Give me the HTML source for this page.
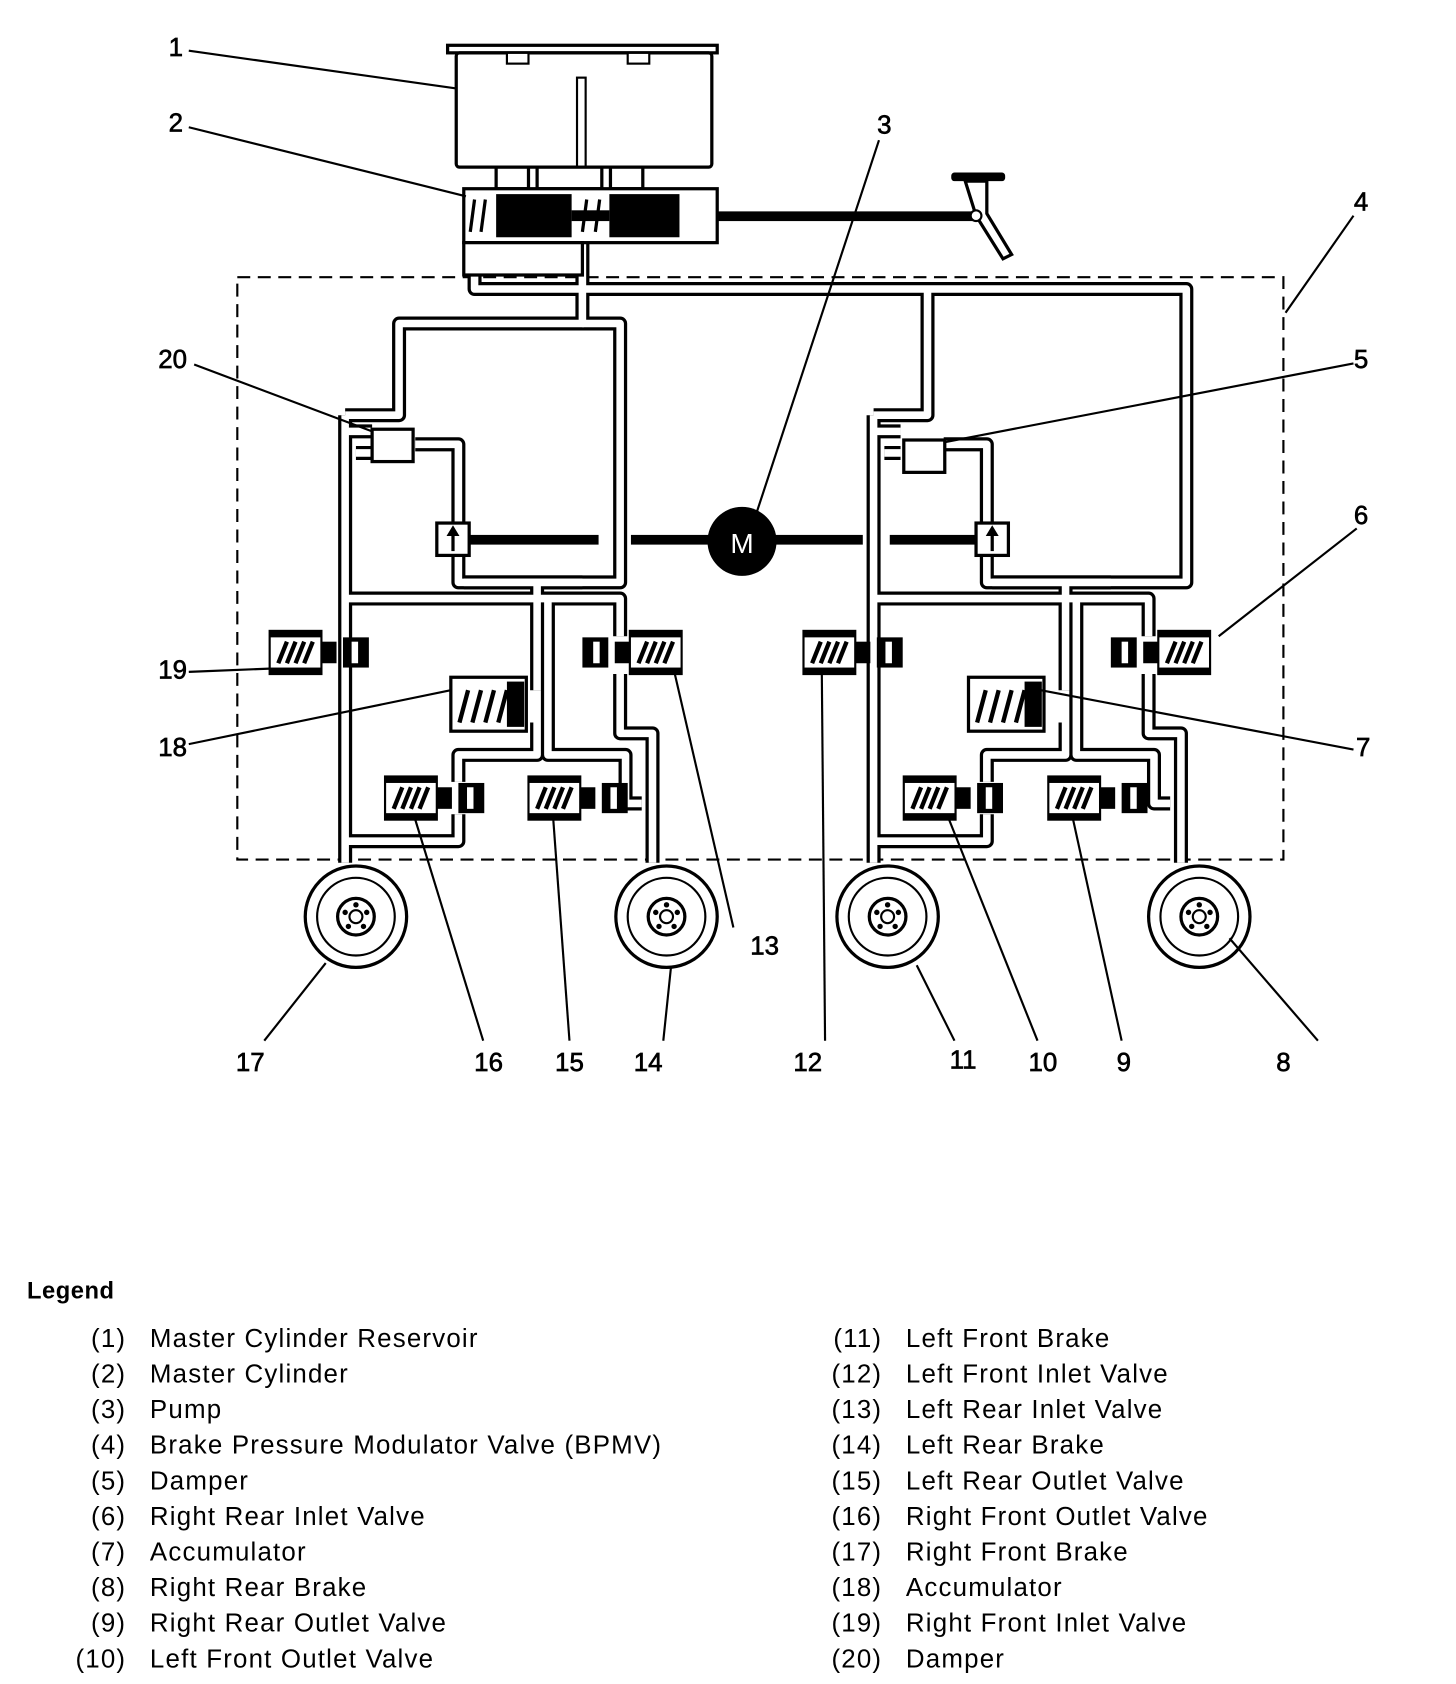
<!DOCTYPE html>
<html><head><meta charset="utf-8"><style>
html,body{margin:0;padding:0;background:#fff;}
svg{display:block;}
text{font-family:"Liberation Sans",Arial,sans-serif;fill:#000;}
</style></head><body>
<svg width="1456" height="1684" viewBox="0 0 1350 1561.5" xmlns="http://www.w3.org/2000/svg">
<defs>
<g id="tubesL">
  <path d="M320,385 V800"/>
  <path d="M320,555 H575 V590"/>
  <path d="M575,625 V680 H605 V800"/>
  <path d="M498,540 V640"/>
  <path d="M498,670 V700 H425 V725"/>
  <path d="M508,555 V700 H580 V745 H595"/>
  <path d="M320,780 H425 V755"/>
  <path d="M385,412 H425 V485"/>
  <path d="M425,515 V540 H540"/>
  <path d="M320,400 H345"/>
  <path d="M330,420 H345"/>
</g>
<g id="tubesTop">
  <path d="M540,225 V300 H370 V385 H320"/>
  <path d="M540,300 H575 V540 H430"/>
  <path d="M440,225 V268 H1100 V540 H920"/>
  <path d="M860,268 V385 H810"/>
</g>
<g id="vSpringL">
  <rect x="0" y="0" width="48" height="40" fill="#fff" stroke="#000" stroke-width="2"/>
  <rect x="0" y="0" width="48" height="6" fill="#000"/>
  <rect x="0" y="34" width="48" height="6" fill="#000"/>
  <g stroke="#000" stroke-width="4" fill="none">
   <line x1="8" y1="30" x2="16" y2="10"/><line x1="16" y1="30" x2="24" y2="10"/><line x1="24" y1="30" x2="32" y2="10"/><line x1="32" y1="30" x2="40" y2="10"/>
  </g>
  <rect x="48" y="10" width="14" height="20" fill="#000"/>
  <rect x="68" y="6" width="24" height="28" fill="#000"/>
  <rect x="76" y="10" width="6" height="20" fill="#fff"/>
</g>
<g id="vSpringR">
  <rect x="44" y="0" width="48" height="40" fill="#fff" stroke="#000" stroke-width="2"/>
  <rect x="44" y="0" width="48" height="6" fill="#000"/>
  <rect x="44" y="34" width="48" height="6" fill="#000"/>
  <g stroke="#000" stroke-width="4" fill="none">
   <line x1="52" y1="30" x2="60" y2="10"/><line x1="60" y1="30" x2="68" y2="10"/><line x1="68" y1="30" x2="76" y2="10"/><line x1="76" y1="30" x2="84" y2="10"/>
  </g>
  <rect x="30" y="10" width="14" height="20" fill="#000"/>
  <rect x="0" y="6" width="24" height="28" fill="#000"/>
  <rect x="10" y="10" width="6" height="20" fill="#fff"/>
</g>
<g id="acc">
  <rect x="0" y="0" width="70" height="50" fill="#fff" stroke="#000" stroke-width="3"/>
  <g stroke="#000" stroke-width="4"><line x1="8" y1="42" x2="16" y2="12"/><line x1="20" y1="42" x2="28" y2="12"/><line x1="32" y1="42" x2="40" y2="12"/><line x1="44" y1="42" x2="52" y2="12"/></g>
  <rect x="52" y="4" width="16" height="42" fill="#000"/>
</g>
<g id="wheel">
  <circle r="47" fill="#fff" stroke="#000" stroke-width="3"/>
  <circle r="36" fill="none" stroke="#000" stroke-width="2"/>
  <circle r="17" fill="none" stroke="#000" stroke-width="3"/>
  <circle r="6" fill="none" stroke="#000" stroke-width="2"/>
  <g fill="#000"><circle cx="0" cy="-11" r="2.5"/><circle cx="10" cy="-4" r="2.5"/><circle cx="7" cy="9" r="2.5"/><circle cx="-7" cy="9" r="2.5"/><circle cx="-10" cy="-4" r="2.5"/></g>
</g>
<g id="pumpv">
  <rect x="0" y="0" width="30" height="30" fill="#fff" stroke="#000" stroke-width="3"/>
  <line x1="15" y1="26" x2="15" y2="10" stroke="#000" stroke-width="3"/>
  <polygon points="9,12 15,2 21,12" fill="#000"/>
</g>
<g id="damp">
  <rect x="0" y="0" width="38" height="30" fill="#fff" stroke="#000" stroke-width="3"/>
</g>
</defs>

<rect x="220" y="257" width="970" height="540" fill="none" stroke="#000" stroke-width="2" stroke-dasharray="12,7"/>

<g fill="none" stroke-linejoin="round">
  <use href="#tubesL" stroke="#000" stroke-width="13"/>
  <use href="#tubesL" stroke="#000" stroke-width="13" transform="translate(490,0)"/>
  <use href="#tubesTop" stroke="#000" stroke-width="13"/>
  <use href="#tubesL" stroke="#fff" stroke-width="7"/>
  <use href="#tubesL" stroke="#fff" stroke-width="7" transform="translate(490,0)"/>
  <use href="#tubesTop" stroke="#fff" stroke-width="7"/>
</g>

<rect x="415" y="42" width="250" height="7" fill="#fff" stroke="#000" stroke-width="3"/>
<rect x="423" y="49" width="237" height="106" fill="#fff" stroke="#000" stroke-width="3" rx="3"/>
<rect x="470" y="49" width="20" height="10" fill="#fff" stroke="#000" stroke-width="2"/>
<rect x="582" y="49" width="20" height="10" fill="#fff" stroke="#000" stroke-width="2"/>
<rect x="535" y="72" width="8" height="84" fill="#fff" stroke="#000" stroke-width="2"/>
<rect x="460" y="155" width="30" height="20" fill="#fff" stroke="#000" stroke-width="3"/>
<rect x="498" y="155" width="60" height="20" fill="#fff" stroke="#000" stroke-width="3"/>
<rect x="566" y="155" width="30" height="20" fill="#fff" stroke="#000" stroke-width="3"/>
<rect x="430" y="175" width="235" height="50" fill="#fff" stroke="#000" stroke-width="3"/>
<rect x="460" y="180" width="70" height="40" fill="#000"/>
<rect x="565" y="180" width="65" height="40" fill="#000"/>
<rect x="530" y="195" width="35" height="10" fill="#000"/>
<g stroke="#000" stroke-width="3"><line x1="436" y1="215" x2="440" y2="185"/><line x1="446" y1="215" x2="450" y2="185"/><line x1="540" y1="215" x2="544" y2="185"/><line x1="552" y1="215" x2="556" y2="185"/></g>
<rect x="430" y="225" width="110" height="30" fill="#fff" stroke="#000" stroke-width="3"/>
<rect x="665" y="196" width="245" height="9" fill="#000"/>
<rect x="882" y="160" width="50" height="8" fill="#000" rx="3"/>
<path d="M895,168 L905,200 L930,240 L938,236 L915,198 L915,168 Z" fill="#fff" stroke="#000" stroke-width="3"/>
<circle cx="905" cy="200" r="5" fill="#fff" stroke="#000" stroke-width="2"/>

<rect x="435" y="496" width="120" height="9" fill="#000"/>
<rect x="585" y="496" width="215" height="9" fill="#000"/>
<rect x="825" y="496" width="85" height="9" fill="#000"/>
<circle cx="688" cy="502" r="32" fill="#000"/>
<text x="688" y="513" font-size="26" text-anchor="middle" style="fill:#fff">M</text>

<use href="#damp" x="345" y="398"/>
<use href="#damp" x="838" y="408"/>
<use href="#pumpv" x="405" y="485"/>
<use href="#pumpv" x="905" y="485"/>

<use href="#vSpringL" x="250" y="585"/>
<use href="#vSpringR" x="540" y="585"/>
<use href="#acc" x="418" y="628"/>
<use href="#vSpringL" x="357" y="720"/>
<use href="#vSpringL" x="490" y="720"/>
<use href="#vSpringL" x="745" y="585"/>
<use href="#vSpringR" x="1030" y="585"/>
<use href="#acc" x="898" y="628"/>
<use href="#vSpringL" x="838" y="720"/>
<use href="#vSpringL" x="972" y="720"/>

<use href="#wheel" x="330" y="850"/>
<use href="#wheel" x="618" y="850"/>
<use href="#wheel" x="823" y="850"/>
<use href="#wheel" x="1112" y="850"/>

<g stroke="#000" stroke-width="2">
<line x1="175" y1="47" x2="423" y2="82"/>
<line x1="175" y1="118" x2="432" y2="182"/>
<line x1="815" y1="130" x2="700" y2="480"/>
<line x1="1255" y1="200" x2="1192" y2="290"/>
<line x1="1255" y1="337" x2="876" y2="410"/>
<line x1="1258" y1="490" x2="1130" y2="590"/>
<line x1="1255" y1="695" x2="965" y2="640"/>
<line x1="175" y1="623" x2="250" y2="620"/>
<line x1="175" y1="690" x2="418" y2="640"/>
<line x1="180" y1="338" x2="345" y2="400"/>
<line x1="680" y1="860" x2="625" y2="622"/>
<line x1="765" y1="965" x2="762" y2="625"/>
<line x1="1222" y1="965" x2="1140" y2="870"/>
<line x1="1040" y1="965" x2="995" y2="760"/>
<line x1="962" y1="965" x2="880" y2="760"/>
<line x1="885" y1="965" x2="850" y2="895"/>
<line x1="615" y1="965" x2="622" y2="898"/>
<line x1="528" y1="965" x2="513" y2="760"/>
<line x1="448" y1="965" x2="385" y2="760"/>
<line x1="245" y1="965" x2="302" y2="893"/>
</g>

<g font-size="24" text-anchor="middle" style="stroke:#000;stroke-width:0.6">
<text x="163" y="52">1</text>
<text x="163" y="122">2</text>
<text x="820" y="124">3</text>
<text x="1262" y="195">4</text>
<text x="1262" y="341">5</text>
<text x="1262" y="486">6</text>
<text x="1264" y="701">7</text>
<text x="1190" y="993">8</text>
<text x="1042" y="993">9</text>
<text x="967" y="993">10</text>
<text x="893" y="991">11</text>
<text x="749" y="993">12</text>
<text x="709" y="885">13</text>
<text x="601" y="993">14</text>
<text x="528" y="993">15</text>
<text x="453" y="993">16</text>
<text x="232" y="993">17</text>
<text x="160" y="701">18</text>
<text x="160" y="629">19</text>
<text x="160" y="341">20</text>
</g>

<text x="25" y="1204" font-size="22" font-weight="bold" letter-spacing="0.5">Legend</text>
<g font-size="24" letter-spacing="1.1" transform="translate(0,-4)">
<g text-anchor="end">
<text x="117" y="1253">(1)</text><text x="117" y="1286">(2)</text><text x="117" y="1319">(3)</text><text x="117" y="1352">(4)</text><text x="117" y="1385">(5)</text><text x="117" y="1418">(6)</text><text x="117" y="1451">(7)</text><text x="117" y="1484">(8)</text><text x="117" y="1517">(9)</text><text x="117" y="1550">(10)</text>
<text x="818" y="1253">(11)</text><text x="818" y="1286">(12)</text><text x="818" y="1319">(13)</text><text x="818" y="1352">(14)</text><text x="818" y="1385">(15)</text><text x="818" y="1418">(16)</text><text x="818" y="1451">(17)</text><text x="818" y="1484">(18)</text><text x="818" y="1517">(19)</text><text x="818" y="1550">(20)</text>
</g>
<text x="139" y="1253">Master Cylinder Reservoir</text>
<text x="139" y="1286">Master Cylinder</text>
<text x="139" y="1319">Pump</text>
<text x="139" y="1352">Brake Pressure Modulator Valve (BPMV)</text>
<text x="139" y="1385">Damper</text>
<text x="139" y="1418">Right Rear Inlet Valve</text>
<text x="139" y="1451">Accumulator</text>
<text x="139" y="1484">Right Rear Brake</text>
<text x="139" y="1517">Right Rear Outlet Valve</text>
<text x="139" y="1550">Left Front Outlet Valve</text>
<text x="840" y="1253">Left Front Brake</text>
<text x="840" y="1286">Left Front Inlet Valve</text>
<text x="840" y="1319">Left Rear Inlet Valve</text>
<text x="840" y="1352">Left Rear Brake</text>
<text x="840" y="1385">Left Rear Outlet Valve</text>
<text x="840" y="1418">Right Front Outlet Valve</text>
<text x="840" y="1451">Right Front Brake</text>
<text x="840" y="1484">Accumulator</text>
<text x="840" y="1517">Right Front Inlet Valve</text>
<text x="840" y="1550">Damper</text>
</g>
</svg>
</body></html>
